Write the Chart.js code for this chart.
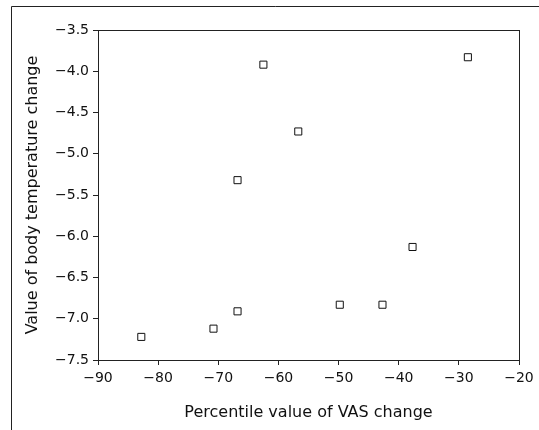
<!DOCTYPE html>
<html lang="en">
<head>
    <meta charset="UTF-8">
    <title>Body temperature vs VAS change</title>
    <script src="https://cdn.jsdelivr.net/npm/chart.js"></script>
    <style>
        html, body { margin: 0; padding: 0; background: white; }
        .wrap { width: 539px; height: 430px; position: relative; }
    </style>
</head>
<body>
    <div class="wrap"><canvas id="scatterChart" width="539" height="430"></canvas></div>
    <script>
        // values
        const vasChange = [-82.8, -70.8, -66.8, -66.8, -62.5, -56.7, -49.8, -42.7, -37.7, -28.5];
        const tempChange = [-7.22, -7.12, -6.91, -5.32, -3.92, -4.73, -6.83, -6.83, -6.13, -3.83];
        const xTicks = [-90, -80, -70, -60, -50, -40, -30, -20];
        const yTicks = [-7.5, -7.0, -6.5, -6.0, -5.5, -5.0, -4.5, -4.0, -3.5];

        const points = vasChange.map((x, i) => ({ x: x, y: tempChange[i] }));
        const minus = s => s.replace('-', '\u2212');

        // box round the plot and the outer frame of the figure
        const frames = {
            id: 'frames',
            afterDraw(chart) {
                const ctx = chart.ctx;
                const a = chart.chartArea;
                ctx.save();
                ctx.strokeStyle = '#222';
                ctx.lineWidth = 1;
                ctx.strokeRect(Math.round(a.left) + 0.5, Math.round(a.top) + 0.5,
                    Math.round(a.right - a.left), Math.round(a.bottom - a.top));
                ctx.beginPath();
                ctx.moveTo(11.5, 440);
                ctx.lineTo(11.5, 6.5);
                ctx.lineTo(545, 6.5);
                ctx.stroke();
                ctx.restore();
            }
        };

        const tickFont = { family: 'DejaVu Sans', size: 14 };
        const titleFont = { family: 'DejaVu Sans', size: 16 };

        new Chart(document.getElementById('scatterChart'), {
            type: 'scatter',
            data: {
                datasets: [{
                    data: points,
                    pointStyle: 'rect',
                    pointRadius: 5,
                    pointHoverRadius: 5,
                    pointBorderWidth: 1,
                    pointBorderColor: '#111',
                    pointBackgroundColor: 'white'
                }]
            },
            options: {
                responsive: false,
                animation: false,
                layout: { padding: { top: 30, right: 20, left: 0, bottom: 0 } },
                plugins: { legend: { display: false }, tooltip: { enabled: false } },
                scales: {
                    x: {
                        type: 'linear',
                        min: -90,
                        max: -20,
                        afterBuildTicks: s => { s.ticks = xTicks.map(v => ({ value: v })); },
                        afterFit: s => { s.height = 70; },
                        grid: { drawOnChartArea: false, drawTicks: true, tickLength: 5, color: '#222' },
                        border: { display: true, color: '#222' },
                        ticks: {
                            color: '#111',
                            font: tickFont,
                            padding: 5,
                            maxRotation: 0,
                            callback: v => minus(String(v))
                        },
                        title: {
                            display: true,
                            text: 'Percentile value of VAS change',
                            color: '#111',
                            font: titleFont,
                            padding: { top: 0, bottom: 8 }
                        }
                    },
                    y: {
                        type: 'linear',
                        min: -7.5,
                        max: -3.5,
                        afterBuildTicks: s => { s.ticks = yTicks.map(v => ({ value: v })); },
                        afterFit: s => { s.width = 98; },
                        grid: { drawOnChartArea: false, drawTicks: true, tickLength: 5, color: '#222' },
                        border: { display: true, color: '#222' },
                        ticks: {
                            color: '#111',
                            font: tickFont,
                            padding: 4,
                            callback: v => minus(v.toFixed(1))
                        },
                        title: {
                            display: true,
                            text: 'Value of body temperature change',
                            color: '#111',
                            font: titleFont,
                            padding: { top: 23, bottom: 0 }
                        }
                    }
                }
            },
            plugins: [frames]
        });
    </script>
</body>
</html>
